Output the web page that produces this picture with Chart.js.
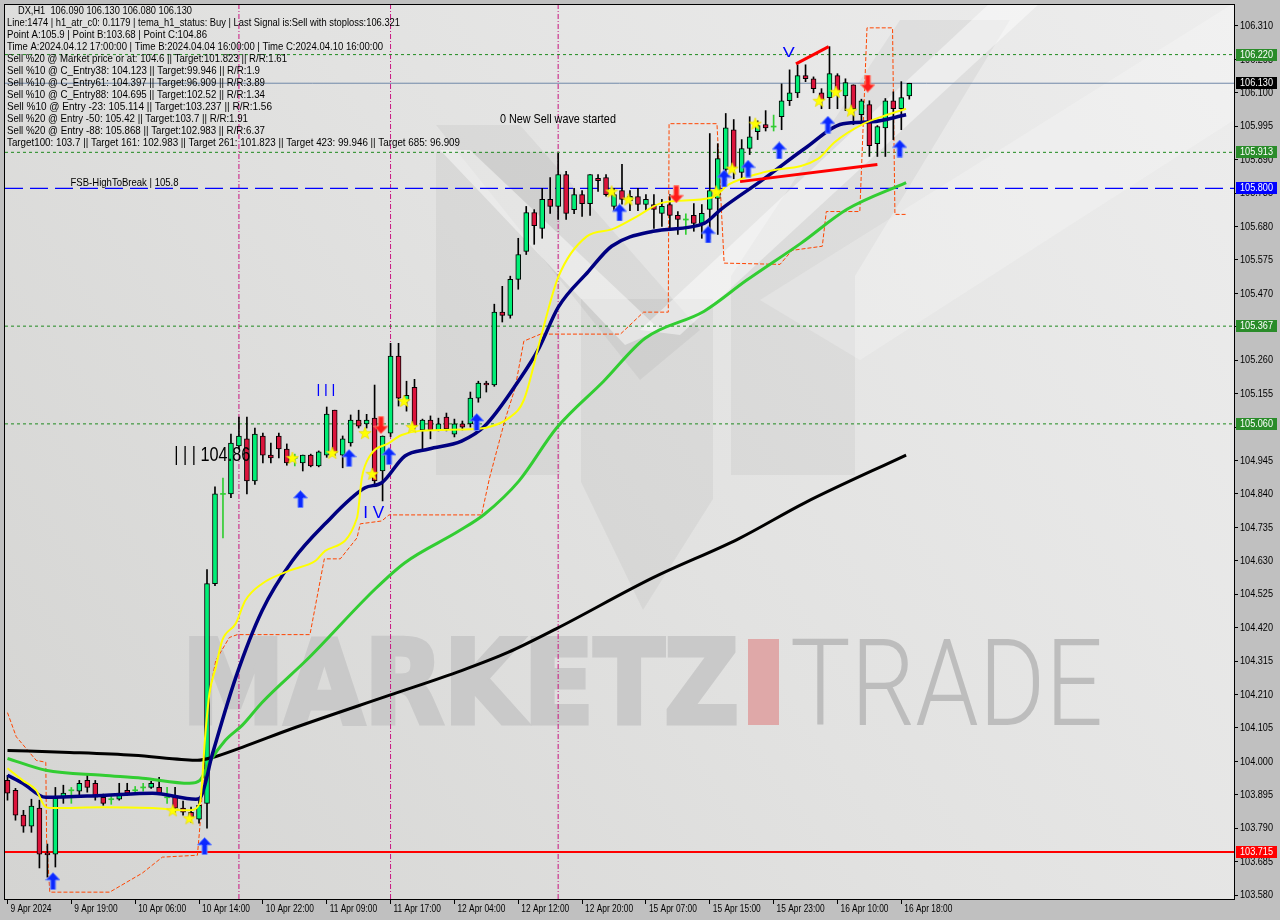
<!DOCTYPE html>
<html>
<head>
<meta charset="utf-8">
<script src="https://cdn.jsdelivr.net/npm/chart.js@4.4.1/dist/chart.umd.min.js"></script>
<style>
  html, body { margin: 0; padding: 0; background: #c0c0c0; }
  #wrap { width: 1280px; height: 920px; }
</style>
</head>
<body>
<div id="wrap"><canvas id="myChart" width="1280" height="920"></canvas></div>
<script>
'use strict';

// DX H1 candles, index 0 = first bar on the left
let opens = [
  103.940, 103.909, 103.831, 103.796, 103.853, 103.712, 103.708, 103.887, 103.909, 103.906,
  103.940, 103.931, 103.887, 103.881, 103.881, 103.909, 103.909, 103.918, 103.918, 103.918,
  103.887, 103.887, 103.853, 103.840, 103.818, 103.868, 104.558, 104.840, 104.840, 104.991,
  105.013, 104.881, 105.022, 104.962, 105.022, 104.981, 104.953, 104.937, 104.962, 104.928,
  104.962, 105.103, 104.962, 105.000, 105.072, 105.060, 105.078, 104.912, 105.031, 105.273,
  105.132, 105.175, 105.041, 105.072, 105.041, 105.081, 105.028, 105.060, 105.060, 105.141,
  105.188, 105.182, 105.411, 105.401, 105.514, 105.602, 105.724, 105.674, 105.765, 105.743,
  105.843, 105.733, 105.780, 105.752, 105.831, 105.834, 105.743, 105.793, 105.760, 105.774,
  105.749, 105.749, 105.721, 105.749, 105.715, 105.702, 105.715, 105.690, 105.734, 105.768,
  105.859, 105.984, 105.850, 105.925, 105.978, 106.000, 105.994, 106.025, 106.075, 106.100,
  106.154, 106.144, 106.100, 106.085, 106.154, 106.090, 106.125, 106.031, 106.063, 105.940,
  105.990, 106.075, 106.050, 106.090
];
let highs = [
  103.956, 103.915, 103.846, 103.881, 103.878, 103.740, 103.918, 103.925, 103.918, 103.940,
  103.956, 103.940, 103.897, 103.893, 103.931, 103.931, 103.921, 103.931, 103.937, 103.950,
  103.918, 103.918, 103.875, 103.856, 103.878, 104.602, 104.862, 104.890, 105.028, 105.081,
  105.081, 105.047, 105.031, 105.000, 105.031, 104.997, 104.965, 104.962, 104.965, 104.975,
  105.113, 105.103, 105.022, 105.088, 105.103, 105.090, 105.182, 105.022, 105.313, 105.313,
  105.194, 105.200, 105.075, 105.085, 105.078, 105.094, 105.075, 105.069, 105.160, 105.194,
  105.194, 105.436, 105.492, 105.524, 105.643, 105.743, 105.733, 105.800, 105.834, 105.910,
  105.853, 105.800, 105.793, 105.843, 105.843, 105.843, 105.800, 105.875, 105.793, 105.800,
  105.780, 105.780, 105.765, 105.780, 105.727, 105.720, 105.752, 105.749, 105.972, 105.940,
  106.035, 106.016, 105.953, 106.025, 106.012, 106.044, 106.030, 106.128, 106.172, 106.188,
  106.188, 106.150, 106.113, 106.245, 106.160, 106.144, 106.125, 106.080, 106.075, 105.997,
  106.082, 106.103, 106.135, 106.130
];
let lows = [
  103.878, 103.815, 103.777, 103.777, 103.665, 103.636, 103.668, 103.868, 103.868, 103.893,
  103.903, 103.878, 103.862, 103.865, 103.878, 103.893, 103.897, 103.906, 103.915, 103.897,
  103.868, 103.840, 103.831, 103.809, 103.806, 103.790, 104.552, 104.702, 104.828, 104.981,
  104.840, 104.870, 104.937, 104.937, 104.953, 104.930, 104.928, 104.912, 104.925, 104.925,
  104.955, 104.960, 104.922, 104.990, 105.047, 105.047, 104.865, 104.818, 105.020, 105.116,
  105.100, 105.044, 104.981, 105.013, 105.038, 105.038, 105.019, 105.041, 105.050, 105.128,
  105.160, 105.178, 105.380, 105.392, 105.483, 105.592, 105.624, 105.643, 105.721, 105.702,
  105.702, 105.720, 105.712, 105.715, 105.790, 105.775, 105.730, 105.750, 105.730, 105.730,
  105.730, 105.674, 105.680, 105.674, 105.655, 105.655, 105.665, 105.643, 105.640, 105.655,
  105.825, 105.830, 105.830, 105.906, 105.953, 105.980, 105.980, 105.984, 106.060, 106.085,
  106.135, 106.100, 106.050, 106.050, 106.050, 106.044, 106.000, 106.000, 105.900, 105.900,
  105.900, 105.953, 105.984, 106.080
];
let closes = [
  103.900, 103.831, 103.796, 103.859, 103.708, 103.706, 103.884, 103.900, 103.909, 103.931,
  103.918, 103.887, 103.868, 103.881, 103.900, 103.900, 103.909, 103.918, 103.931, 103.900,
  103.887, 103.853, 103.840, 103.824, 103.862, 104.558, 104.840, 104.840, 105.000, 105.022,
  104.881, 105.028, 104.962, 104.953, 104.981, 104.937, 104.953, 104.962, 104.928, 104.972,
  105.091, 104.969, 105.013, 105.072, 105.053, 105.072, 104.881, 105.022, 105.273, 105.141,
  105.150, 105.053, 105.072, 105.041, 105.060, 105.044, 105.060, 105.050, 105.141, 105.188,
  105.182, 105.411, 105.401, 105.514, 105.592, 105.724, 105.683, 105.765, 105.743, 105.843,
  105.721, 105.780, 105.752, 105.843, 105.824, 105.780, 105.780, 105.765, 105.775, 105.749,
  105.765, 105.734, 105.743, 105.715, 105.702, 105.702, 105.690, 105.721, 105.793, 105.893,
  105.990, 105.865, 105.925, 105.962, 105.997, 105.990, 105.994, 106.075, 106.100, 106.154,
  106.144, 106.113, 106.078, 106.160, 106.103, 106.132, 106.050, 106.075, 105.934, 105.994,
  106.075, 106.050, 106.085, 106.130
];

// moving averages, [bar index, price]
let maYellow = [
  [0, 103.978], [1.9, 103.940], [3.6, 103.909], [4.8, 103.856], [5.7, 103.853], [11.9, 103.856],
  [18.2, 103.853], [22.8, 103.846], [24.1, 103.868], [24.8, 104.088], [25.3, 104.213], [26.1, 104.295],
  [26.9, 104.379], [28.6, 104.433], [29.8, 104.505], [31.9, 104.558], [35.3, 104.599], [38.6, 104.630],
  [39.8, 104.661], [43.8, 104.765], [44.4, 104.890], [45.4, 104.959], [47.8, 105.000], [49.4, 105.025],
  [51.6, 105.038], [58.6, 105.044], [60.3, 105.050], [62.8, 105.078], [64.7, 105.135], [66.8, 105.329],
  [69.0, 105.520], [72.6, 105.649], [75.7, 105.671], [78.9, 105.712], [82.1, 105.755], [88.3, 105.771],
  [90.4, 105.812], [94.7, 105.850], [101.6, 105.893], [103.6, 105.944], [107.3, 106.003], [109.9, 106.028],
  [112.6, 106.050]
];
let maNavy = [
  [0, 103.956], [1.9, 103.931], [4.8, 103.887], [11.9, 103.893], [18.2, 103.900], [23.6, 103.881],
  [24.1, 103.884], [25.7, 104.025], [28.6, 104.263], [31.9, 104.473], [35.7, 104.630], [39.8, 104.746],
  [44.8, 104.859], [46.9, 104.875], [49.8, 104.959], [52.8, 104.981], [56.9, 105.006], [59.8, 105.053],
  [64.2, 105.201], [66.6, 105.298], [69.0, 105.426], [72.8, 105.539], [75.7, 105.618], [80.9, 105.665],
  [87.3, 105.690], [89.4, 105.734], [94.7, 105.828], [99.9, 105.925], [104.7, 106.003], [108.3, 106.009],
  [112.6, 106.031]
];
let maGreen = [
  [0, 104.009], [4.8, 103.972], [11.9, 103.956], [16.9, 103.947], [22.8, 103.931], [24.1, 103.940],
  [25.3, 103.997], [27.3, 104.066], [29.4, 104.113], [31.9, 104.185], [37.8, 104.326], [46.1, 104.542],
  [49.8, 104.624], [56.6, 104.724], [59.8, 104.777], [64.1, 104.881], [68.8, 105.047], [74.7, 105.194],
  [79.9, 105.329], [87.3, 105.414], [92.6, 105.511], [99.4, 105.627], [105.2, 105.734], [112.6, 105.818]
];
let maBlack = [
  [0, 104.034], [7.8, 104.028], [15.8, 104.019], [21.8, 104.006], [23.8, 104.003], [25.8, 104.013],
  [29.4, 104.044], [35.7, 104.103], [47.8, 104.207], [56.9, 104.285], [62.7, 104.342], [68.8, 104.417],
  [80.9, 104.577], [91.6, 104.699], [99.9, 104.812], [112.6, 104.962]
];
// orange dashed step line
let stopLine = [
  [0, 104.153], [1.1, 104.077], [3.6, 104.003], [4.8, 103.997], [4.9, 103.752], [5.3, 103.589],
  [12.8, 103.589], [16.9, 103.649], [19.4, 103.699], [23.8, 103.705], [24.1, 103.793], [25.3, 104.213],
  [26.1, 104.317], [27.8, 104.389], [28.8, 104.398], [37.9, 104.398], [39.7, 104.636], [41.7, 104.636],
  [43.8, 104.702], [44.2, 104.746], [46.9, 104.755], [47.8, 104.774], [59.4, 104.774], [60.4, 104.890],
  [62.3, 105.069], [63.6, 105.172], [64.7, 105.320], [66.8, 105.342], [76.8, 105.342], [79.7, 105.411],
  [82.8, 105.411], [82.9, 106.003], [88.9, 106.003], [89.8, 105.565], [96.8, 105.561], [98.3, 105.605],
  [102.1, 105.618], [102.6, 105.727], [106.8, 105.727], [107.7, 106.304], [110.9, 106.304], [111.2, 105.718],
  [112.6, 105.718]
];

// signals
let upArrows = [
  [5.7, 103.624], [24.7, 103.734], [36.7, 104.824], [42.8, 104.953], [47.8, 104.959], [58.8, 105.066],
  [76.7, 105.724], [87.8, 105.655], [89.8, 105.831], [92.8, 105.862], [96.7, 105.919], [102.8, 106.000],
  [111.8, 105.925]
];
let downArrows = [[46.8, 105.056], [83.8, 105.781], [107.8, 106.129]];
let stars = [
  [20.7, 103.846], [22.8, 103.821], [35.7, 104.953], [40.7, 104.969], [44.8, 105.031], [45.7, 104.903],
  [49.7, 105.132], [50.7, 105.050], [75.7, 105.790], [77.8, 105.765], [88.8, 105.790], [90.8, 105.862],
  [93.7, 106.003], [101.7, 106.075], [103.8, 106.103], [105.7, 106.044]
];
let trendTop = [[98.8, 106.191], [102.9, 106.245]];
let trendLow = [[91.8, 105.821], [109, 105.875]];

// levels
let greenLevels = [106.220, 105.913, 105.367, 105.060];
let blueLevel = 105.800;
let redLevel = 103.715;
let lastPrice = 106.130;
let timeMarks = [29, 48, 69];

// axes
let yTicks = [
  103.580, 103.685, 103.790, 103.895, 104.000, 104.105, 104.210, 104.315, 104.420, 104.525,
  104.630, 104.735, 104.840, 104.945, 105.050, 105.155, 105.260, 105.365, 105.470, 105.575,
  105.680, 105.785, 105.890, 105.995, 106.100, 106.205, 106.310
];
let tickIdx = [0, 8, 16, 24, 32, 40, 48, 56, 64, 72, 80, 88, 96, 104, 112];
let tickLabels = [
  '9 Apr 2024', '9 Apr 19:00', '10 Apr 06:00', '10 Apr 14:00', '10 Apr 22:00', '11 Apr 09:00',
  '11 Apr 17:00', '12 Apr 04:00', '12 Apr 12:00', '12 Apr 20:00', '15 Apr 07:00', '15 Apr 15:00',
  '15 Apr 23:00', '16 Apr 10:00', '16 Apr 18:00'
];

let infoLines = [
  'DX,H1  106.090 106.130 106.080 106.130',
  'Line:1474 | h1_atr_c0: 0.1179 | tema_h1_status: Buy | Last Signal is:Sell with stoploss:106.321',
  'Point A:105.9 | Point B:103.68 | Point C:104.86',
  'Time A:2024.04.12 17:00:00 | Time B:2024.04.04 16:00:00 | Time C:2024.04.10 16:00:00',
  'Sell %20 @ Market price or at: 104.6 || Target:101.823 || R/R:1.61',
  'Sell %10 @ C_Entry38: 104.123 || Target:99.946 || R/R:1.9',
  'Sell %10 @ C_Entry61: 104.397 || Target:96.909 || R/R:3.89',
  'Sell %10 @ C_Entry88: 104.695 || Target:102.52 || R/R:1.34',
  'Sell %10 @ Entry -23: 105.114 || Target:103.237 || R/R:1.56',
  'Sell %20 @ Entry -50: 105.42 || Target:103.7 || R/R:1.91',
  'Sell %20 @ Entry -88: 105.868 || Target:102.983 || R/R:6.37',
  'Target100: 103.7 || Target 161: 102.983 || Target 261: 101.823 || Target 423: 99.946 || Target 685: 96.909'
];
let infoWidths = [174, 393, 200, 376, 280, 253, 258, 258, 265, 241, 258, 453];

const X_MIN = -0.3125, X_MAX = 153.6875;
const Y_MIN = 103.5675, Y_MAX = 106.3758;

const BULL = '#00ee76', BEAR = '#dc143c', DOJI = '#32cd32';

let idx = opens.map((o, i) => i);
let isDoji = idx.map(i => opens[i] === closes[i]);

function pts(arr) {
  return arr.map(p => ({ x: p[0], y: p[1] }));
}

function hLine(v) {
  return [{ x: X_MIN, y: v }, { x: X_MAX, y: v }];
}

// marker images
function makeArrow(fill, edge, down) {
  let c = document.createElement('canvas');
  c.width = 15; c.height = 18;
  let g = c.getContext('2d');
  if (down) { g.translate(0, 18); g.scale(1, -1); }
  g.beginPath();
  g.moveTo(7.5, 0.5); g.lineTo(14.5, 8); g.lineTo(10, 8); g.lineTo(10, 17.5);
  g.lineTo(5, 17.5); g.lineTo(5, 8); g.lineTo(0.5, 8); g.closePath();
  g.fillStyle = fill; g.fill();
  g.strokeStyle = edge; g.lineWidth = 1; g.stroke();
  return c;
}

function makeStar() {
  let c = document.createElement('canvas');
  c.width = 14; c.height = 14;
  let g = c.getContext('2d');
  g.beginPath();
  for (let k = 0; k < 10; k++) {
    let r = k % 2 === 0 ? 6.5 : 2.7;
    let a = -Math.PI / 2 + k * Math.PI / 5;
    let px = 7 + r * Math.cos(a), py = 7.5 + r * Math.sin(a);
    if (k === 0) g.moveTo(px, py); else g.lineTo(px, py);
  }
  g.closePath();
  g.fillStyle = '#ffff00'; g.fill();
  g.strokeStyle = '#e8d800'; g.lineWidth = 0.6; g.stroke();
  return c;
}

function drawFit(ctx, text, x, y, w, stroke) {
  let m = ctx.measureText(text).width;
  ctx.save();
  ctx.translate(x, y);
  ctx.scale(w / m, 1);
  if (stroke) ctx.strokeText(text, 0, 0);
  ctx.fillText(text, 0, 0);
  ctx.restore();
}

// background, logo and watermark
const backdrop = {
  id: 'backdrop',
  beforeDraw(chart) {
    let ctx = chart.ctx, a = chart.chartArea;
    ctx.save();
    ctx.fillStyle = '#c0c0c0';
    ctx.fillRect(0, 0, chart.width, chart.height);
    let g = ctx.createLinearGradient(a.left, a.bottom, a.right, a.top);
    g.addColorStop(0, '#d4d4d2');
    g.addColorStop(0.5, '#e2e2e1');
    g.addColorStop(1, '#ededed');
    ctx.fillStyle = g;
    ctx.fillRect(a.left, a.top, a.right - a.left, a.bottom - a.top);

    ctx.beginPath();
    ctx.rect(a.left, a.top, a.right - a.left, a.bottom - a.top);
    ctx.clip();

    // big M logo
    ctx.fillStyle = 'rgba(0,0,0,0.045)';
    ctx.fillRect(436, 152, 124, 323);
    ctx.fillRect(731, 276, 124, 199);
    ctx.beginPath();
    ctx.moveTo(581, 299); ctx.lineTo(713, 299); ctx.lineTo(713, 499);
    ctx.lineTo(643, 610); ctx.lineTo(581, 482); ctx.closePath();
    ctx.fill();
    ctx.beginPath();
    ctx.moveTo(436, 125); ctx.lineTo(520, 125); ctx.lineTo(700, 330); ctx.lineTo(640, 380); ctx.closePath();
    ctx.fill();
    ctx.beginPath();
    ctx.moveTo(731, 276); ctx.lineTo(855, 276); ctx.lineTo(1010, 20); ctx.lineTo(900, 20); ctx.closePath();
    ctx.fill();
    ctx.fillStyle = 'rgba(255,255,255,0.45)';
    ctx.beginPath();
    ctx.moveTo(440, 150); ctx.lineTo(470, 150); ctx.lineTo(660, 330); ctx.lineTo(625, 345); ctx.closePath();
    ctx.fill();
    ctx.beginPath();
    ctx.moveTo(640, 330); ctx.lineTo(680, 335); ctx.lineTo(1040, 3); ctx.lineTo(990, 3); ctx.closePath();
    ctx.fill();
    ctx.fillStyle = 'rgba(255,255,255,0.22)';
    ctx.beginPath();
    ctx.moveTo(760, 300); ctx.lineTo(1234, 3); ctx.lineTo(1234, 120); ctx.lineTo(860, 360); ctx.closePath();
    ctx.fill();

    // MARKETZ | TRADE
    ctx.textBaseline = 'alphabetic';
    ctx.textAlign = 'left';
    ctx.fillStyle = '#c9c9c9';
    ctx.strokeStyle = '#c9c9c9';
    ctx.lineWidth = 5;
    ctx.lineJoin = 'miter';
    ctx.font = "bold 116px 'DejaVu Sans', 'Liberation Sans', sans-serif";
    drawFit(ctx, 'MARKETZ', 182, 723, 557, true);
    ctx.fillStyle = '#dfa8a8';
    ctx.fillRect(748, 639, 31, 86);
    ctx.fillStyle = '#bdbdbd';
    ctx.font = "300 120px Roboto, 'Liberation Sans', sans-serif";
    drawFit(ctx, 'TRADE', 790, 725, 313);
    ctx.restore();
  }
};

// notes tied to the chart
let notes = [
  { t: 'I I I', i: 39.9, p: 105.161, w: 19, size: 17, color: '#0000ff', align: 'center' },
  { t: 'I V', i: 45.9, p: 104.779, w: 21, size: 16, color: '#0000ff', align: 'center' },
  { t: 'V', i: 97.9, p: 106.224, w: 12, size: 15, color: '#0000ff', align: 'center' },
  { t: '| | | 104.86', i: 20.9, p: 104.961, w: 76, size: 20, color: '#000000', align: 'left' },
  { t: '0 New Sell wave started', i: 61.7, p: 106.016, w: 116, size: 13, color: '#000000', align: 'left' },
  { t: 'FSB-HighToBreak | 105.8', i: 7.9, p: 105.818, w: 108, size: 11, color: '#000000', align: 'left' }
];

const overlay = {
  id: 'overlay',
  afterDatasetsDraw(chart) {
    let ctx = chart.ctx, xs = chart.scales.x, ys = chart.scales.y;
    ctx.save();
    ctx.textBaseline = 'middle';
    ctx.textAlign = 'left';
    ctx.fillStyle = '#000';
    ctx.font = "11px 'Liberation Sans', sans-serif";
    infoLines.forEach((t, k) => {
      let y = k === 0 ? 10.5 : 11 + 12 * k;
      drawFit(ctx, t, k === 0 ? 18 : 7, y, infoWidths[k]);
    });
    notes.forEach(n => {
      ctx.font = n.size + "px 'Liberation Sans', sans-serif";
      ctx.fillStyle = n.color;
      let x = xs.getPixelForValue(n.i), y = ys.getPixelForValue(n.p);
      if (n.align === 'center') x -= n.w / 2;
      drawFit(ctx, n.t, x, y, n.w);
    });
    ctx.restore();
  },
  afterDraw(chart) {
    let ctx = chart.ctx, a = chart.chartArea, xs = chart.scales.x, ys = chart.scales.y;
    ctx.save();
    ctx.strokeStyle = '#000';
    ctx.lineWidth = 1;
    ctx.strokeRect(a.left - 0.5, a.top - 0.5, a.right - a.left + 1, a.bottom - a.top + 1);

    // axis labels, squeezed to the narrow terminal font
    ctx.fillStyle = '#000';
    ctx.textBaseline = 'middle';
    ctx.textAlign = 'left';
    ctx.font = "10px 'Liberation Sans', Arial, sans-serif";
    let ky = 33 / ctx.measureText('106.310').width;
    yTicks.forEach(v => {
      let t = v.toFixed(3);
      drawFit(ctx, t, a.right + 6, ys.getPixelForValue(v) + 0.5, ctx.measureText(t).width * ky);
    });
    ctx.font = "11px 'Liberation Sans', Arial, sans-serif";
    let kx = 48 / ctx.measureText('16 Apr 18:00').width;
    tickIdx.forEach((v, k) => {
      let t = tickLabels[k];
      drawFit(ctx, t, xs.getPixelForValue(v) + 3, a.bottom + 10, ctx.measureText(t).width * kx);
    });

    // price boxes on the axis
    ctx.font = "10px 'Liberation Sans', Arial, sans-serif";
    let boxes = greenLevels.map(v => [v, '#2a8c2a']);
    boxes.push([lastPrice, '#000000'], [blueLevel, '#0000ff'], [redLevel, '#ff0000']);
    boxes.forEach(b => {
      let y = Math.round(ys.getPixelForValue(b[0]));
      ctx.fillStyle = b[1];
      ctx.fillRect(a.right + 2, y - 6, 41, 12);
      ctx.fillStyle = '#ffffff';
      drawFit(ctx, b[0].toFixed(3), a.right + 6, y + 0.5, 33);
    });
    ctx.restore();
  }
};

let datasets = [];

// candles
datasets.push({
  type: 'bar',
  data: idx.map(i => ({ x: i, y: [lows[i], highs[i]] })),
  backgroundColor: idx.map(i => isDoji[i] ? DOJI : '#000000'),
  borderWidth: 0,
  barThickness: 1,
  grouped: false,
  order: 7
});
datasets.push({
  type: 'bar',
  data: idx.map(i => isDoji[i]
    ? { x: i, y: [opens[i] - 0.0016, opens[i] + 0.0016] }
    : { x: i, y: [opens[i], closes[i]] }),
  backgroundColor: idx.map(i => isDoji[i] ? DOJI : (closes[i] > opens[i] ? BULL : BEAR)),
  borderColor: idx.map(i => isDoji[i] ? DOJI : '#000000'),
  borderWidth: idx.map(i => isDoji[i] ? 0 : 1),
  borderSkipped: false,
  barThickness: 5,
  grouped: false,
  order: 6
});

function lineSet(data, color, width, order, extra) {
  return Object.assign({
    type: 'line', data: data, borderColor: color, borderWidth: width,
    pointRadius: 0, fill: false, tension: 0, order: order
  }, extra || {});
}

datasets.push(lineSet(pts(maYellow), '#ffff00', 2, 2, { cubicInterpolationMode: 'monotone' }));
datasets.push(lineSet(pts(maNavy), '#000080', 3.5, 3, { cubicInterpolationMode: 'monotone' }));
datasets.push(lineSet(pts(maGreen), '#32cd32', 3, 4, { cubicInterpolationMode: 'monotone' }));
datasets.push(lineSet(pts(maBlack), '#000000', 3, 5, { cubicInterpolationMode: 'monotone' }));
datasets.push(lineSet(pts(stopLine), '#ff4500', 1, 8, { borderDash: [4, 2] }));
datasets.push(lineSet(pts(trendTop), '#ff0000', 3, 1));
datasets.push(lineSet(pts(trendLow), '#ff0000', 3, 1));

greenLevels.forEach(v => datasets.push(lineSet(hLine(v), '#1f8a1f', 1, 9, { borderDash: [3, 3] })));
datasets.push(lineSet(hLine(blueLevel), '#0000ff', 1.2, 9, { borderDash: [18, 7] }));
datasets.push(lineSet(hLine(redLevel), '#ff0000', 2, 9));
datasets.push(lineSet(hLine(lastPrice), '#7088a8', 1, 9));
timeMarks.forEach(t => datasets.push(lineSet([{ x: t, y: Y_MIN }, { x: t, y: Y_MAX }], '#c8157f', 1, 10, { borderDash: [5, 2, 1, 2] })));

// markers
datasets.push({ type: 'scatter', data: pts(stars), pointStyle: makeStar(), order: 0 });
datasets.push({ type: 'scatter', data: pts(upArrows), pointStyle: makeArrow('#0a28ff', '#6b86ff', false), order: 0 });
datasets.push({ type: 'scatter', data: pts(downArrows), pointStyle: makeArrow('#ff1a1a', '#ff7a6a', true), order: 0 });

function noPad(s) {
  s.paddingTop = 0; s.paddingBottom = 0; s.paddingLeft = 0; s.paddingRight = 0;
}

let ctx = document.getElementById('myChart').getContext('2d');

let myChart = new Chart(ctx, {
  type: 'bar',
  data: { datasets: datasets },
  options: {
    responsive: false,
    animation: false,
    events: [],
    devicePixelRatio: 1,
    layout: { padding: { left: 0, top: 2, right: 0, bottom: 0 } },
    plugins: { legend: { display: false }, tooltip: { enabled: false } },
    scales: {
      x: {
        type: 'linear',
        min: X_MIN,
        max: X_MAX,
        offset: false,
        grid: { offset: false, drawOnChartArea: false, tickLength: 5, color: '#000000' },
        border: { display: false },
        ticks: { display: false },
        afterBuildTicks: s => { s.ticks = tickIdx.map(v => ({ value: v })); },
        afterFit: s => { s.height = 21; noPad(s); }
      },
      y: {
        type: 'linear',
        position: 'right',
        min: Y_MIN,
        max: Y_MAX,
        grid: { drawOnChartArea: false, tickLength: 4, color: '#000000' },
        border: { display: false },
        ticks: { display: false },
        afterBuildTicks: s => { s.ticks = yTicks.map(v => ({ value: v })); },
        afterFit: s => { s.width = 46; noPad(s); }
      }
    }
  },
  plugins: [backdrop, overlay]
});
</script>
</body>
</html>
